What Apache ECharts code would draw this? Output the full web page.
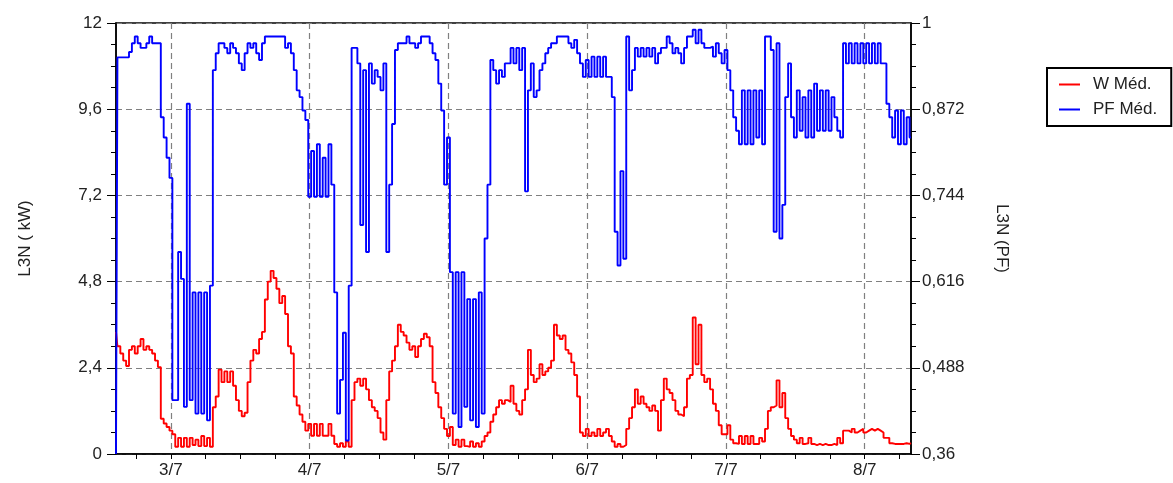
<!DOCTYPE html>
<html lang="fr">
<head>
    <meta charset="UTF-8">
    <script src="https://cdn.jsdelivr.net/npm/echarts@6/dist/echarts.min.js"></script>
    <title>L3N</title>
    <style>html, body { margin: 0; padding: 0; background: #fff; }</style>
</head>
<body>
    <div id="main" style="width: 1173px; height: 483px;"></div>
    <script>
        // mesures toutes les 30 min, du 2/7 14:30 au 8/7 08:00
        var startTime = new Date(2020, 6, 2, 14, 30);
        var stepMinutes = 30;

        // W Méd. (kW), axe de gauche
        var wMed = [
            3.4, 3.0, 2.8, 2.6, 2.45, 2.9, 3.0, 2.8, 3.0, 3.2,
            2.9, 3.0, 2.9, 2.8, 2.6, 2.42, 0.98, 0.85, 0.75, 0.65,
            0.55, 0.20, 0.45, 0.20, 0.45, 0.20, 0.45, 0.25, 0.40, 0.22,
            0.50, 0.22, 0.45, 0.20, 1.3, 1.6, 2.35, 2.0, 2.3, 2.0,
            2.3, 1.9, 1.5, 1.2, 1.05, 1.15, 2.0, 2.6, 2.9, 2.8,
            3.2, 3.4, 4.3, 4.8, 5.1, 4.9, 4.6, 4.2, 4.4, 3.9,
            3.0, 2.8, 1.6, 1.35, 1.1, 0.9, 0.65, 0.84, 0.51, 0.84,
            0.51, 0.84, 0.51, 0.51, 0.84, 0.51, 0.28, 0.20, 0.30, 0.20,
            0.35, 0.20, 1.5, 2.0, 2.1, 1.9, 2.1, 1.8, 1.5, 1.3,
            1.2, 1.0, 0.6, 0.4, 1.5, 2.3, 2.6, 3.0, 3.6, 3.4,
            3.3, 3.1, 2.9, 3.0, 2.7, 3.0, 3.2, 3.35, 3.25, 3.0,
            2.0, 1.7, 1.3, 1.0, 0.7, 0.5, 0.75, 0.25, 0.4, 0.2,
            0.4, 0.22, 0.2, 0.35, 0.2, 0.3, 0.2, 0.35, 0.5, 0.6,
            0.9, 1.1, 1.3, 1.5, 1.4, 1.5, 1.45, 1.9, 1.4, 1.2,
            1.1, 1.5, 1.8, 2.9, 2.2, 2.0, 2.1, 2.5, 2.2, 2.3,
            2.4, 2.6, 3.6, 3.3, 3.2, 3.3, 2.9, 2.8, 2.55, 2.2,
            1.6, 0.6, 0.5, 0.7, 0.5, 0.6, 0.5, 0.7, 0.5, 0.6,
            0.7, 0.5, 0.35, 0.2, 0.28, 0.2, 0.25, 0.7, 1.0, 1.3,
            1.8, 1.4, 1.6, 1.4, 1.3, 1.2, 1.35, 1.2, 0.65, 1.5,
            2.1, 1.8, 1.7, 1.5, 1.2, 1.1, 1.05, 1.3, 2.1, 2.2,
            3.8, 2.5, 3.6, 2.2, 2.0, 2.1, 1.8, 1.4, 1.2, 0.8,
            0.55, 0.55, 0.8, 0.4, 0.3, 0.28, 0.5, 0.28, 0.5, 0.28,
            0.5, 0.28, 0.28, 0.45, 0.35, 0.7, 1.2, 1.3, 1.35, 2.05,
            1.3, 1.7, 1.0, 0.7, 0.5, 0.4, 0.3, 0.45, 0.28, 0.3,
            0.45, 0.28, 0.25, 0.28, 0.25, 0.28, 0.25, 0.25, 0.28, 0.25,
            0.45, 0.3, 0.65, 0.65, 0.6, 0.7, 0.6, 0.65, 0.7, 0.6,
            0.65, 0.7, 0.65, 0.7, 0.65, 0.6, 0.45, 0.45, 0.3, 0.28,
            0.28, 0.28, 0.28, 0.3, 0.28, 0.3
        ];

        // PF Méd., axe de droite
        var pfMed = [
            0.36, 0.949, 0.949, 0.949, 0.949, 0.957, 0.97, 0.98, 0.97, 0.963,
            0.963, 0.97, 0.98, 0.97, 0.97, 0.97, 0.86, 0.83, 0.80, 0.77,
            0.44, 0.44, 0.66, 0.62, 0.43, 0.88, 0.44, 0.60, 0.42, 0.60,
            0.42, 0.60, 0.41, 0.61, 0.93, 0.955, 0.97, 0.97, 0.963, 0.955,
            0.97, 0.963, 0.955, 0.94, 0.93, 0.955, 0.97, 0.963, 0.97, 0.955,
            0.945, 0.97, 0.98, 0.98, 0.98, 0.98, 0.98, 0.98, 0.98, 0.963,
            0.97, 0.955, 0.93, 0.90, 0.89, 0.87, 0.856, 0.742, 0.81, 0.742,
            0.82, 0.742, 0.80, 0.742, 0.82, 0.76, 0.60, 0.42, 0.47, 0.54,
            0.38, 0.61, 0.963, 0.963, 0.94, 0.70, 0.93, 0.66, 0.94, 0.91,
            0.93, 0.92, 0.90, 0.94, 0.66, 0.76, 0.85, 0.96, 0.97, 0.97,
            0.97, 0.98, 0.97, 0.97, 0.963, 0.97, 0.98, 0.98, 0.98, 0.97,
            0.955, 0.945, 0.91, 0.87, 0.76, 0.83, 0.63, 0.42, 0.63, 0.40,
            0.63, 0.43, 0.59, 0.41, 0.59, 0.40, 0.60, 0.42, 0.68, 0.76,
            0.945, 0.93, 0.91, 0.93, 0.92, 0.94, 0.94, 0.963, 0.94, 0.963,
            0.93, 0.963, 0.75, 0.90, 0.94, 0.89, 0.90, 0.93, 0.94, 0.955,
            0.963, 0.97, 0.97, 0.98, 0.98, 0.98, 0.98, 0.97, 0.963, 0.975,
            0.955, 0.94, 0.92, 0.945, 0.92, 0.95, 0.92, 0.95, 0.92, 0.95,
            0.92, 0.92, 0.89, 0.69, 0.64, 0.78, 0.65, 0.98, 0.90, 0.93,
            0.963, 0.95, 0.963, 0.95, 0.963, 0.95, 0.963, 0.94, 0.955, 0.963,
            0.963, 0.98, 0.97, 0.955, 0.963, 0.955, 0.94, 0.963, 0.98, 0.98,
            0.99, 0.97, 0.99, 0.97, 0.963, 0.963, 0.965, 0.95, 0.97, 0.955,
            0.94, 0.96, 0.93, 0.90, 0.86, 0.84, 0.82, 0.90, 0.82, 0.90,
            0.82, 0.90, 0.83, 0.90, 0.82, 0.98, 0.98, 0.96, 0.69, 0.97,
            0.68, 0.73, 0.89, 0.94, 0.86, 0.83, 0.90, 0.84, 0.89, 0.83,
            0.90, 0.83, 0.91, 0.84, 0.90, 0.84, 0.90, 0.84, 0.89, 0.86,
            0.84, 0.83, 0.97, 0.94, 0.97, 0.94, 0.97, 0.94, 0.97, 0.94,
            0.97, 0.94, 0.97, 0.94, 0.97, 0.94, 0.94, 0.88, 0.86, 0.83,
            0.87, 0.82, 0.87, 0.82, 0.86, 0.83
        ];

        function pad(n) { return n < 10 ? '0' + n : '' + n; }

        // abscisses "j/m hh:mm"
        var times = [];
        for (var i = 0; i < wMed.length; i++) {
            var d = new Date(startTime.getTime() + i * stepMinutes * 60000);
            times.push(d.getDate() + '/' + (d.getMonth() + 1) + ' ' + pad(d.getHours()) + ':' + pad(d.getMinutes()));
        }

        function isMidnight(index, value) { return value.indexOf(' 00:00') > 0; }
        function isSixHours(index, value) {
            var hm = value.split(' ')[1];
            return hm.slice(3) === '00' && parseInt(hm.slice(0, 2), 10) % 6 === 0;
        }
        function frNumber(v) { return String(Math.round(v * 1000) / 1000).replace('.', ','); }

        var gridDash = { type: [6, 4], color: '#808080', width: 1.2 };
        var fontFamily = '"Liberation Sans", Arial, sans-serif';

        var myChart = echarts.init(document.getElementById('main'));
        var option = {
            animation: false,
            textStyle: { fontFamily: fontFamily },
            grid: {
                left: 116, right: 262, top: 23, bottom: 29,
                show: true, borderColor: '#000', borderWidth: 1.5, backgroundColor: '#fff'
            },
            legend: {
                data: ['W Méd.', 'PF Méd.'],
                orient: 'vertical',
                left: 1047, top: 68,
                padding: [8, 14, 8, 12],
                itemGap: 8,
                itemWidth: 21, itemHeight: 2,
                icon: 'rect',
                borderColor: '#000', borderWidth: 2,
                textStyle: { fontSize: 17, color: '#222', padding: [0, 0, 0, 8] }
            },
            xAxis: {
                type: 'category',
                boundaryGap: false,
                data: times,
                axisLine: { lineStyle: { color: '#000', width: 1.5 } },
                axisTick: { interval: isSixHours, length: 5, lineStyle: { color: '#000' } },
                axisLabel: {
                    interval: isMidnight,
                    formatter: function (v) { return v.split(' ')[0]; },
                    fontSize: 17, color: '#222', margin: 8
                },
                splitLine: { show: true, interval: isMidnight, lineStyle: gridDash }
            },
            yAxis: [
                {
                    type: 'value', position: 'left',
                    min: 0, max: 12, interval: 2.4,
                    name: 'L3N ( kW)', nameLocation: 'middle', nameGap: 82, nameRotate: 90,
                    nameTextStyle: { fontSize: 17, color: '#222' },
                    axisLine: { show: true, lineStyle: { color: '#000', width: 1.5 } },
                    axisTick: { show: true, length: 9, lineStyle: { color: '#000' } },
                    minorTick: { show: true, splitNumber: 4, length: 5, lineStyle: { color: '#000' } },
                    axisLabel: { fontSize: 17, color: '#222', margin: 14, formatter: frNumber },
                    splitLine: { show: true, lineStyle: gridDash }
                },
                {
                    type: 'value', position: 'right',
                    min: 0.36, max: 1, interval: 0.128,
                    name: 'L3N (PF)', nameLocation: 'middle', nameGap: 82, nameRotate: -90,
                    nameTextStyle: { fontSize: 17, color: '#222' },
                    axisLine: { show: true, lineStyle: { color: '#000', width: 1.5 } },
                    axisTick: { show: true, length: 9, lineStyle: { color: '#000' } },
                    minorTick: { show: true, splitNumber: 4, length: 5, lineStyle: { color: '#000' } },
                    axisLabel: { fontSize: 17, color: '#222', margin: 11, formatter: frNumber },
                    splitLine: { show: false }
                }
            ],
            series: [
                {
                    name: 'W Méd.', type: 'line', yAxisIndex: 0,
                    data: wMed, step: 'middle', symbol: 'none',
                    lineStyle: { color: '#ff0000', width: 1.9 }, itemStyle: { color: '#ff0000' }
                },
                {
                    name: 'PF Méd.', type: 'line', yAxisIndex: 1,
                    data: pfMed, step: 'middle', symbol: 'none',
                    lineStyle: { color: '#0000ff', width: 1.9 }, itemStyle: { color: '#0000ff' }
                }
            ]
        };
        myChart.setOption(option);
    </script>
</body>
</html>
